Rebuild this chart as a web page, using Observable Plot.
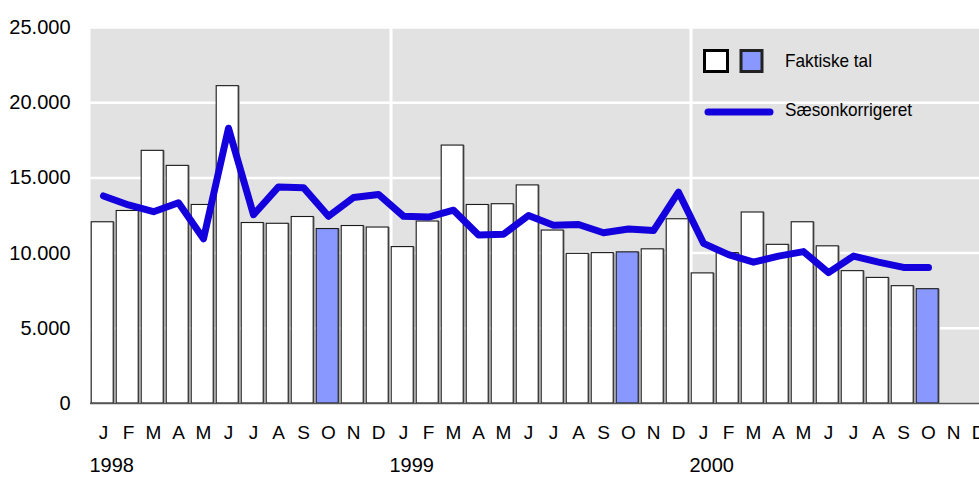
<!DOCTYPE html>
<html><head><meta charset="utf-8">
<script src="https://cdn.jsdelivr.net/npm/d3@7"></script>
<script src="https://cdn.jsdelivr.net/npm/@observablehq/plot@0.6"></script>
<style>
body{margin:0;background:#fff;font-family:"Liberation Sans",Arial,sans-serif}
#wrap{position:relative;width:979px;height:479px;overflow:hidden}
#legend{position:absolute;left:0;top:0}
</style>
</head><body><div id="wrap"></div>
<script>
const years = [1998, 1999, 2000];
const monthLetters = ["J","F","M","A","M","J","J","A","S","O","N","D"];
const yTicks = [0, 5000, 10000, 15000, 20000, 25000];
// Faktiske tal, Jan 1998 – Oct 2000
const faktiske = [
  12050, 12800, 16800, 15800, 13200, 21100, 12000, 11950, 12400, 11600, 11800, 11700,
  10400, 12100, 17150, 13200, 13250, 14500, 11500, 9950, 10000, 10050, 10250, 12250,
  8650, 10000, 12700, 10550, 12050, 10450, 8800, 8350, 7800, 7600
];
// Sæsonkorrigeret
const saeson = [
  13800, 13200, 12750, 13350, 10950, 18300, 12550, 14400, 14350, 12450, 13700, 13900,
  12450, 12400, 12850, 11200, 11250, 12500, 11850, 11900, 11350, 11600, 11500, 14050,
  10650, 9900, 9400, 9800, 10100, 8700, 9800, 9400, 9050, 9050
];
const highlightMonth = 10;
const legendLabels = ["Faktiske tal", "Sæsonkorrigeret"];

const keys = [];
years.forEach(y => monthLetters.forEach((m, i) => keys.push(`${y}-${String(i + 1).padStart(2, "0")}`)));
const data = faktiske.map((v, i) => ({key: keys[i], month: (i % 12) + 1, value: v, sa: saeson[i]}));
const monthData = keys.map((k, i) => ({key: k, letter: monthLetters[i % 12]}));
const janKeys = years.map(y => `${y}-01`);
const yearData = years.map((y, i) => ({key: janKeys[i], year: String(y)}));
const fmt = v => d3.format(",")(v).replace(/,/g, ".");

const font = `"Liberation Sans",Arial,sans-serif`;

const chart = Plot.plot({
  width: 979, height: 479,
  marginLeft: 90, marginRight: 0, marginTop: 27, marginBottom: 76,
  style: {fontFamily: font, fontSize: "20px", color: "#000", background: "transparent", overflow: "visible"},
  x: {type: "band", domain: keys, range: [90, 990], paddingInner: 0.14, paddingOuter: 0.07, axis: null},
  y: {domain: [0, 25000], axis: null},
  marks: [
    Plot.frame({fill: "#e2e2e2", stroke: null}),
    Plot.ruleY(yTicks.slice(1), {stroke: "#fff", strokeWidth: 2.5}),
    Plot.ruleX(janKeys.slice(1), {stroke: "#fff", strokeWidth: 3, dx: -12.5}),
    Plot.barY(data, {x: "key", y: "value", fill: "#9a9a9a", dx: 0.8, dy: 0}),
    Plot.barY(data, {x: "key", y: "value", fill: d => d.month === highlightMonth ? "#8898ff" : "#ffffff", stroke: "#1a1a1a", strokeWidth: 1.1, dx: -0.8}),
    Plot.ruleY([0], {stroke: "#555", strokeWidth: 1.5}),
    Plot.line(data, {x: "key", y: "sa", stroke: "#1400dc", strokeWidth: 7, strokeLinejoin: "round", strokeLinecap: "round"}),
    Plot.text(yTicks, {y: d => d, text: fmt, frameAnchor: "left", textAnchor: "end", dx: -20, fontSize: 20}),
    Plot.text(monthData, {x: "key", text: "letter", frameAnchor: "bottom", dy: 35, fontSize: 19}),
    Plot.text(yearData, {x: "key", text: "year", frameAnchor: "bottom", dy: 68, textAnchor: "start", dx: -14, fontSize: 20})
  ]
});
const wrap = document.getElementById("wrap");
wrap.appendChild(chart);

// Legend overlay
const lg = d3.select(wrap).append("svg").attr("id", "legend").attr("width", 979).attr("height", 479);
lg.append("rect").attr("x", 704.5).attr("y", 50.5).attr("width", 23).attr("height", 21).attr("fill", "#fff").attr("stroke", "#000").attr("stroke-width", 3);
lg.append("rect").attr("x", 741).attr("y", 50.5).attr("width", 21).attr("height", 21).attr("fill", "#8898ff").attr("stroke", "#222").attr("stroke-width", 3);
lg.append("line").attr("x1", 708).attr("x2", 770).attr("y1", 112).attr("y2", 112).attr("stroke", "#1400dc").attr("stroke-width", 7).attr("stroke-linecap", "round");
lg.append("text").attr("x", 785).attr("y", 60).attr("dy", "0.35em").attr("font-family", font).attr("font-size", 19)
  .attr("textLength", 87).attr("lengthAdjust", "spacingAndGlyphs").text(legendLabels[0]);
lg.append("text").attr("x", 785).attr("y", 109).attr("dy", "0.35em").attr("font-family", font).attr("font-size", 19)
  .attr("textLength", 127).attr("lengthAdjust", "spacingAndGlyphs").text(legendLabels[1]);
</script>
</body></html>
